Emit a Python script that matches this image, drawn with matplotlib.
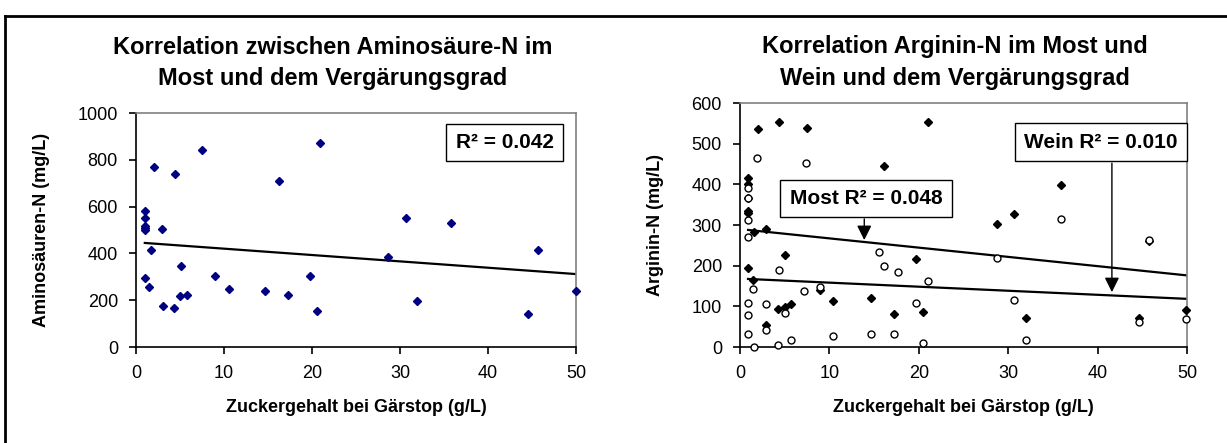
import numpy as np
import matplotlib
matplotlib.use("Agg")
import matplotlib.pyplot as plt
from matplotlib.lines import Line2D

plt.rcParams['font.family'] = ['Liberation Sans', 'DejaVu Sans']

# Aminosaeure-N im Most vs. Zucker bei Gaerstop
amino_x = [1.0, 1.0, 1.0, 1.0, 1.0, 3.0, 1.7, 1.0, 1.5, 2.0, 4.4, 7.5, 3.1, 4.3, 5.1, 5.0,
           5.8, 9.0, 10.6, 14.7, 16.2, 17.3, 19.8, 20.6, 20.9, 30.7, 28.6, 31.9, 35.8, 45.7,
           44.5, 50.0]
amino_y = [580, 550, 515, 508, 500, 505, 415, 295, 255, 770, 740, 840, 175, 165, 345, 218,
           222, 303, 250, 238, 710, 222, 303, 154, 872, 551, 385, 197, 530, 414, 141, 238]

# Arginin-N im Most (gefuellte Rauten)
most_x = [2.0, 4.4, 7.5, 21.0, 16.1, 0.9, 0.9, 0.9, 0.9, 0.9, 1.6, 2.9, 5.0, 0.9, 1.5, 9.0,
          19.7, 2.9, 4.3, 5.0, 5.7, 10.4, 14.6, 17.2, 20.5, 35.9, 30.6, 28.7, 45.7, 32.0,
          44.6, 49.9]
most_y = [537, 553, 539, 554, 445, 415, 402, 366, 335, 329, 284, 289, 227, 195, 165, 140,
          216, 54, 93, 98, 106, 113, 120, 82, 87, 398, 327, 302, 261, 71, 71, 91]

# Arginin-N im Wein (offene Kreise)
wein_x = [1.9, 7.4, 0.9, 0.9, 0.9, 0.9, 15.5, 16.1, 17.7, 21.0, 4.4, 1.5, 7.2, 9.0, 0.9, 0.9,
          2.9, 5.0, 19.7, 2.9, 0.9, 1.6, 4.3, 5.7, 10.4, 14.6, 17.2, 20.5, 35.9, 28.7, 30.6,
          32.0, 45.7, 44.6, 49.9]
wein_y = [465, 453, 392, 366, 312, 270, 234, 200, 185, 163, 189, 143, 138, 148, 109, 79,
          106, 83, 109, 43, 32, 1, 5, 18, 28, 33, 33, 10, 314, 220, 116, 16, 264, 62, 70]

r2_amino, r2_most, r2_wein = "0.042", "0.048", "0.010"


def trend(ax, x, y, **kw):
    # lineare Trendlinie ueber den Datenbereich (wie Excel)
    m, b = np.polyfit(x, y, 1)
    xs = np.array([min(x), max(x)])
    ax.plot(xs, m * xs + b, color="black", lw=1.6, **kw)


def style(ax, ymax, ystep):
    ax.set_xlim(0, 50)
    ax.set_ylim(0, ymax)
    ax.set_xticks(range(0, 51, 10))
    ax.set_yticks(range(0, ymax + 1, ystep))
    for s in ("top", "right"):
        ax.spines[s].set_color("#808080")
        ax.spines[s].set_linewidth(1.2)
    for s in ("left", "bottom"):
        ax.spines[s].set_color("black")
        ax.spines[s].set_linewidth(1.2)
    ax.tick_params(direction="out", length=5, width=1.2, labelsize=13, pad=8)
    ax.set_xlabel("Zuckergehalt bei Gärstop (g/L)", fontsize=13, fontweight="bold", labelpad=12)


fig = plt.figure(figsize=(12.27, 4.43), dpi=100)
W, H = 1227, 443

# linkes Diagramm
ax1 = fig.add_axes([136 / W, 1 - 347 / H, 440 / W, 234 / H])
ax1.plot(amino_x, amino_y, "D", color="#000080", ms=4, clip_on=False, zorder=3)
trend(ax1, amino_x, amino_y)
style(ax1, 1000, 200)
ax1.set_ylabel("Aminosäuren-N (mg/L)", fontsize=13, fontweight="bold", labelpad=20)
ax1.text(41.9, 874, "R² = " + r2_amino, fontsize=15, fontweight="bold", ha="center", va="center",
         bbox=dict(boxstyle="square,pad=0.45", fc="white", ec="black", lw=1))
fig.text(333 / W, 1 - 47 / H, "Korrelation zwischen Aminosäure-N im", fontsize=17,
         fontweight="bold", ha="center", va="center")
fig.text(333 / W, 1 - 79 / H, "Most und dem Vergärungsgrad", fontsize=17,
         fontweight="bold", ha="center", va="center")

# rechtes Diagramm
ax2 = fig.add_axes([740 / W, 1 - 347 / H, 447 / W, 244 / H])
ax2.plot(most_x, most_y, "D", color="black", ms=3.6, clip_on=False, zorder=3)
ax2.plot(wein_x, wein_y, "o", mfc="white", mec="black", mew=1, ms=5, clip_on=False, zorder=4)
trend(ax2, most_x, most_y)
trend(ax2, wein_x, wein_y)
style(ax2, 600, 100)
ax2.set_ylabel("Arginin-N (mg/L)", fontsize=13, fontweight="bold", labelpad=20)

box = dict(boxstyle="square,pad=0.45", fc="white", ec="black", lw=1)
ax2.text(14.1, 365, "Most R² = " + r2_most, fontsize=15, fontweight="bold",
         ha="center", va="center", bbox=box, zorder=5)
ax2.text(40.4, 504, "Wein R² = " + r2_wein, fontsize=15, fontweight="bold",
         ha="center", va="center", bbox=box, zorder=5)
arrow = dict(arrowstyle="-|>", color="black", lw=1, mutation_scale=22, shrinkA=0, shrinkB=0)
ax2.annotate("", xy=(13.9, 263), xytext=(13.9, 315), arrowprops=arrow)
ax2.annotate("", xy=(41.6, 135), xytext=(41.6, 452), arrowprops=arrow)

fig.text(955 / W, 1 - 47 / H, "Korrelation Arginin-N im Most und", fontsize=17,
         fontweight="bold", ha="center", va="center")
fig.text(955 / W, 1 - 79 / H, "Wein und dem Vergärungsgrad", fontsize=17,
         fontweight="bold", ha="center", va="center")

# Rahmen um das Ganze (rechts und unten abgeschnitten)
x0, y0 = 5 / W, 1 - 16 / H
fig.add_artist(Line2D([x0, x0], [0, y0], color="black", lw=2))
fig.add_artist(Line2D([x0, 1], [y0, y0], color="black", lw=2))

fig.savefig("out.png", dpi=100)
